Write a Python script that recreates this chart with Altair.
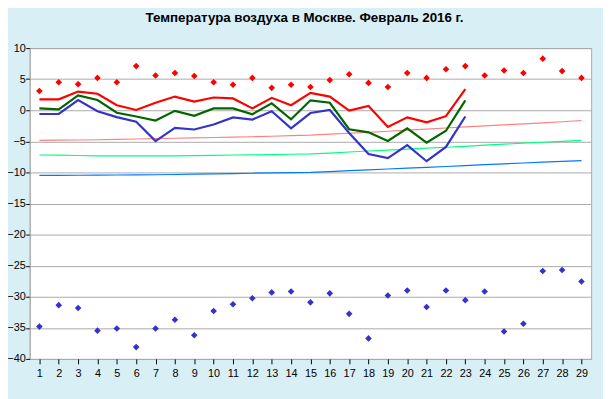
import altair as alt
import pandas as pd

# ---- data ----
days = list(range(1, 30))
obs_days = list(range(1, 24))

t_max = [1.75, 1.75, 3.0, 2.65, 0.8, 0.05, 1.2, 2.2, 1.4, 2.05, 1.9, 0.3, 2.0, 0.8,
         2.8, 2.2, -0.05, 0.7, -2.7, -1.15, -1.95, -0.95, 3.4]
t_mean = [0.3, 0.15, 2.4, 1.65, -0.4, -1.0, -1.65, -0.1, -0.9, 0.3, 0.3, -0.65, 1.1, -1.45,
          1.6, 1.2, -3.05, -3.55, -4.95, -2.9, -5.2, -3.3, 1.6]
t_min = [-0.6, -0.6, 1.65, -0.15, -1.1, -1.85, -4.95, -2.85, -3.1, -2.3, -1.15, -1.5, -0.15, -2.9,
         -0.45, 0.05, -3.65, -7.05, -7.7, -5.6, -8.2, -5.9, -1.0]

norm_max = [-4.85, -4.82, -4.78, -4.74, -4.68, -4.62, -4.55, -4.5, -4.45, -4.38, -4.32, -4.26,
            -4.18, -4.08, -4.0, -3.85, -3.7, -3.55, -3.38, -3.2, -3.03, -2.86, -2.68, -2.5,
            -2.35, -2.2, -2.03, -1.85, -1.65]
norm_mean = [-7.2, -7.22, -7.28, -7.33, -7.35, -7.35, -7.35, -7.33, -7.3, -7.25, -7.2, -7.18,
             -7.15, -7.08, -7.03, -6.9, -6.72, -6.56, -6.4, -6.25, -6.1, -5.95, -5.8, -5.62,
             -5.46, -5.3, -5.15, -5.0, -4.85]
norm_min = [-10.48, -10.47, -10.46, -10.44, -10.42, -10.4, -10.37, -10.33, -10.28, -10.23,
            -10.18, -10.13, -10.08, -10.03, -9.98, -9.86, -9.72, -9.58, -9.45, -9.32, -9.18,
            -9.05, -8.9, -8.76, -8.62, -8.48, -8.35, -8.22, -8.1]

record_max = [3.1, 4.5, 4.2, 5.2, 4.5, 7.1, 5.6, 6.0, 5.5, 4.5, 4.1, 5.2, 3.6, 4.1, 3.75,
              4.85, 5.8, 4.4, 3.75, 6.0, 5.2, 6.6, 7.1, 5.6, 6.4, 6.0, 8.3, 6.3, 5.2]
record_min = [-34.8, -31.35, -31.8, -35.45, -35.1, -38.1, -35.1, -33.7, -36.2, -32.3, -31.2,
              -30.25, -29.3, -29.15, -30.9, -29.45, -32.75, -36.7, -29.8, -29.0, -31.65,
              -29.0, -30.55, -29.15, -35.6, -34.35, -25.85, -25.7, -27.55]

y_ticks = list(range(-40, 11, 5))
title_text = "Температура воздуха в Москве. Февраль 2016 г."

# ---- tables ----
obs_df = pd.concat([
    pd.DataFrame({"day": obs_days, "t": t_max, "s": "max"}),
    pd.DataFrame({"day": obs_days, "t": t_mean, "s": "mean"}),
    pd.DataFrame({"day": obs_days, "t": t_min, "s": "min"}),
])
norm_df = pd.concat([
    pd.DataFrame({"day": days, "t": norm_max, "s": "nmax"}),
    pd.DataFrame({"day": days, "t": norm_mean, "s": "nmean"}),
    pd.DataFrame({"day": days, "t": norm_min, "s": "nmin"}),
])
rec_df = pd.concat([
    pd.DataFrame({"day": days, "t": record_max, "s": "rmax"}),
    pd.DataFrame({"day": days, "t": record_min, "s": "rmin"}),
])

color_scale = alt.Scale(
    domain=["max", "mean", "min", "nmax", "nmean", "nmin", "rmax", "rmin"],
    range=["#FF0000", "#006600", "#3333CC", "#FF8080", "#00FF80", "#0078FF", "#FF0000", "#3333CC"],
)

tick_font = "Liberation Sans"

x_enc = alt.X(
    "day:Q",
    scale=alt.Scale(domain=[0.5, 29.5], nice=False, zero=False),
    axis=alt.Axis(values=days, format="d", title=None, grid=False, domain=False,
                  tickSize=5, tickColor="#000000", labelColor="#000000",
                  labelFont=tick_font, labelFontSize=11, labelPadding=4),
)
y_enc = alt.Y(
    "t:Q",
    scale=alt.Scale(domain=[-40, 10], nice=False, zero=False),
    axis=alt.Axis(values=y_ticks, format="d", title=None, grid=True, gridColor="#AAAAAA",
                  gridOpacity=1, domainColor="#AAAAAA", tickSize=4, tickColor="#000000",
                  labelColor="#000000", labelFont=tick_font, labelFontSize=11,
                  labelPadding=0.5),
)
color_enc = alt.Color("s:N", scale=color_scale, legend=None)

norm_layer = alt.Chart(norm_df).mark_line(strokeWidth=1.2).encode(
    x=x_enc, y=y_enc, color=color_enc, detail="s:N")
obs_layer = alt.Chart(obs_df).mark_line(strokeWidth=2.2).encode(
    x=x_enc, y=y_enc, color=color_enc, detail="s:N")
rec_layer = alt.Chart(rec_df).mark_point(shape="diamond", filled=True, size=45, opacity=1).encode(
    x=x_enc, y=y_enc, color=color_enc)

chart = alt.layer(norm_layer, obs_layer, rec_layer).properties(
    width=569,
    height=315,
    autosize=alt.AutoSizeParams(type="none"),
    padding={"left": 22, "top": 38, "right": 12, "bottom": 38},
    title=alt.Title(title_text, anchor="middle", dx=-6, offset=18, fontSize=13.5,
                    fontWeight="bold", color="#000000",
                    font="Liberation Sans"),
).configure(
    background="#D9EFF6",
).configure_view(
    fill="#FFFFFF", stroke="#AAAAAA", strokeWidth=1,
)

chart.save("out.html", embed_options={"renderer": "svg", "actions": False})
